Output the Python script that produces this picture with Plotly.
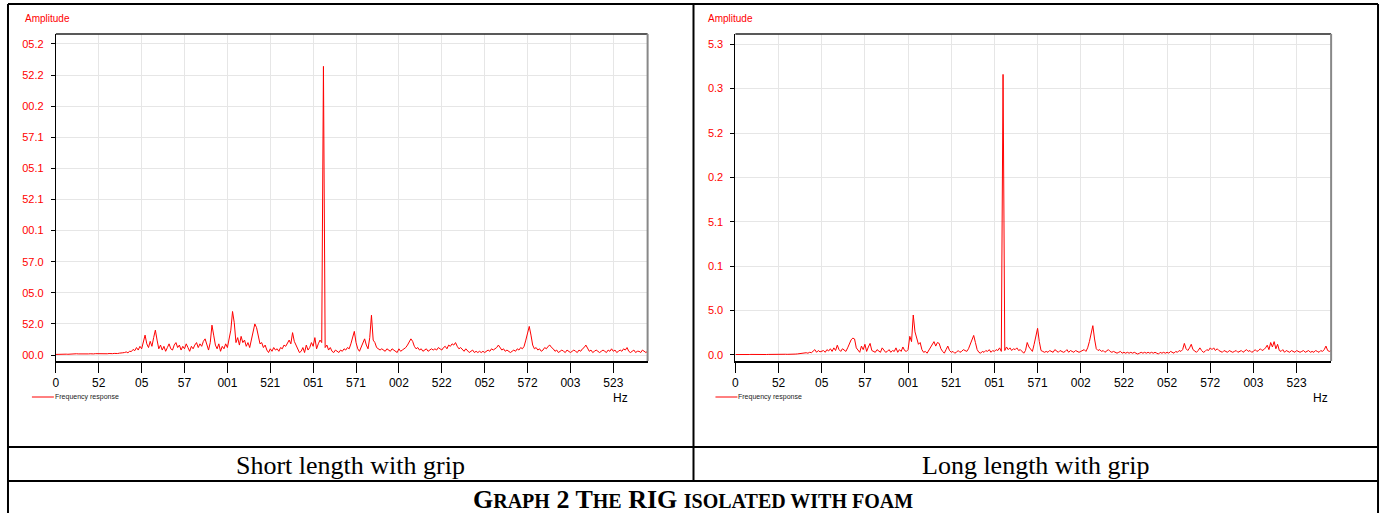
import plotly.graph_objects as go

# ---------------- data ----------------
freq_hz = list(range(0, 346))

short_grip = [
    0.005,0.006,0.005,0.007,0.006,0.008,0.007,0.006,0.008,0.007,
    0.009,0.008,0.01,0.009,0.008,0.01,0.009,0.011,0.01,0.009,
    0.01,0.008,0.009,0.011,0.01,0.009,0.008,0.01,0.009,0.008,
    0.01,0.012,0.009,0.011,0.013,0.01,0.012,0.015,0.014,0.018,
    0.02,0.025,0.018,0.03,0.028,0.045,0.035,0.06,0.04,0.07,
    0.05,0.12,0.16,0.09,0.06,0.11,0.07,0.14,0.2,0.12,
    0.05,0.08,0.04,0.07,0.03,0.06,0.09,0.05,0.04,0.08,
    0.1,0.06,0.08,0.04,0.07,0.05,0.09,0.06,0.03,0.07,
    0.05,0.08,0.1,0.06,0.09,0.07,0.11,0.13,0.08,0.04,
    0.1,0.24,0.16,0.08,0.05,0.09,0.03,0.07,0.05,0.09,
    0.06,0.12,0.2,0.35,0.26,0.1,0.14,0.08,0.15,0.1,
    0.12,0.07,0.1,0.06,0.13,0.2,0.25,0.22,0.15,0.09,
    0.1,0.06,0.08,0.04,0.02,0.05,0.03,0.06,0.04,0.05,
    0.03,0.06,0.05,0.08,0.07,0.1,0.12,0.09,0.18,0.11,
    0.08,0.05,0.02,0.03,0.06,0.02,0.08,0.04,0.06,0.1,
    0.07,0.14,0.05,0.09,0.12,0.1,2.32,0.06,0.08,0.04,
    0.06,0.03,0.02,0.04,0.03,0.02,0.04,0.03,0.05,0.04,
    0.06,0.05,0.09,0.15,0.19,0.1,0.05,0.03,0.06,0.1,
    0.13,0.08,0.05,0.14,0.32,0.12,0.1,0.06,0.05,0.04,
    0.05,0.04,0.03,0.05,0.04,0.03,0.05,0.04,0.03,0.02,
    0.05,0.03,0.04,0.05,0.06,0.08,0.1,0.13,0.11,0.07,
    0.05,0.06,0.04,0.05,0.03,0.04,0.05,0.03,0.04,0.05,
    0.04,0.05,0.04,0.06,0.05,0.04,0.06,0.07,0.05,0.08,
    0.07,0.09,0.08,0.1,0.07,0.05,0.06,0.04,0.03,0.05,
    0.03,0.02,0.03,0.04,0.02,0.03,0.02,0.03,0.02,0.03,
    0.02,0.03,0.04,0.03,0.05,0.04,0.05,0.06,0.08,0.06,
    0.04,0.05,0.03,0.04,0.03,0.02,0.03,0.04,0.03,0.05,
    0.04,0.06,0.05,0.07,0.12,0.18,0.23,0.16,0.08,0.05,
    0.06,0.04,0.05,0.03,0.04,0.06,0.05,0.07,0.08,0.06,
    0.05,0.03,0.04,0.02,0.03,0.04,0.03,0.02,0.04,0.03,
    0.02,0.03,0.04,0.03,0.02,0.04,0.03,0.05,0.06,0.08,
    0.05,0.03,0.04,0.02,0.03,0.04,0.03,0.02,0.03,0.04,
    0.03,0.02,0.04,0.03,0.05,0.03,0.04,0.02,0.03,0.04,
    0.03,0.05,0.04,0.06,0.03,0.02,0.03,0.04,0.02,0.03,
    0.03,0.02,0.04,0.03,0.02,0.03,
]

long_grip = [
    0.005,0.004,0.006,0.005,0.004,0.006,0.005,0.004,0.005,0.006,
    0.005,0.006,0.005,0.007,0.006,0.005,0.007,0.006,0.005,0.006,
    0.007,0.006,0.005,0.007,0.006,0.008,0.007,0.006,0.007,0.008,
    0.007,0.006,0.008,0.007,0.009,0.01,0.012,0.015,0.013,0.02,
    0.018,0.025,0.02,0.03,0.025,0.04,0.06,0.03,0.05,0.035,
    0.04,0.05,0.03,0.06,0.045,0.07,0.04,0.08,0.05,0.11,
    0.06,0.04,0.07,0.05,0.04,0.08,0.12,0.17,0.19,0.18,
    0.08,0.05,0.03,0.1,0.06,0.12,0.04,0.09,0.13,0.05,
    0.04,0.03,0.06,0.04,0.03,0.08,0.05,0.03,0.04,0.06,
    0.03,0.05,0.04,0.08,0.03,0.06,0.04,0.09,0.05,0.04,
    0.06,0.21,0.15,0.45,0.26,0.19,0.12,0.14,0.06,0.03,
    0.04,0.02,0.05,0.08,0.12,0.15,0.1,0.14,0.13,0.07,
    0.04,0.02,0.06,0.1,0.05,0.03,0.04,0.02,0.03,0.05,
    0.03,0.04,0.06,0.05,0.04,0.07,0.12,0.19,0.22,0.14,
    0.06,0.03,0.02,0.04,0.03,0.05,0.04,0.06,0.03,0.05,
    0.04,0.06,0.05,0.08,0.04,3.16,0.05,0.09,0.06,0.08,
    0.05,0.07,0.06,0.08,0.05,0.06,0.04,0.02,0.05,0.14,
    0.09,0.06,0.04,0.12,0.22,0.3,0.15,0.05,0.04,0.03,
    0.04,0.03,0.05,0.04,0.03,0.06,0.04,0.03,0.05,0.04,
    0.03,0.04,0.06,0.03,0.05,0.04,0.03,0.05,0.04,0.03,
    0.04,0.05,0.06,0.04,0.08,0.15,0.26,0.33,0.18,0.07,
    0.05,0.06,0.04,0.05,0.03,0.05,0.06,0.04,0.03,0.04,
    0.03,0.02,0.03,0.04,0.02,0.03,0.02,0.03,0.02,0.03,
    0.02,0.03,0.02,0.01,0.02,0.03,0.02,0.03,0.02,0.03,
    0.02,0.03,0.02,0.03,0.02,0.01,0.03,0.02,0.03,0.02,
    0.03,0.02,0.04,0.03,0.02,0.04,0.03,0.05,0.04,0.06,
    0.13,0.07,0.05,0.08,0.12,0.06,0.04,0.03,0.05,0.08,
    0.05,0.03,0.04,0.06,0.05,0.08,0.06,0.08,0.05,0.07,
    0.05,0.04,0.03,0.05,0.04,0.03,0.05,0.04,0.03,0.04,
    0.05,0.03,0.04,0.05,0.03,0.05,0.06,0.04,0.05,0.03,
    0.04,0.06,0.04,0.05,0.07,0.05,0.06,0.08,0.11,0.06,
    0.14,0.09,0.15,0.07,0.12,0.05,0.04,0.06,0.03,0.05,
    0.04,0.03,0.05,0.04,0.03,0.05,0.04,0.03,0.04,0.05,
    0.03,0.04,0.05,0.03,0.04,0.03,0.05,0.04,0.03,0.05,
    0.04,0.06,0.1,0.05,0.04,0.05,
]

x_tick_vals = [0, 25, 50, 75, 100, 125, 150, 175, 200, 225, 250, 275, 300, 325]
x_tick_text = ["0", "52", "05", "57", "001", "521", "051", "571", "002", "522", "052", "572", "003", "523"]

y1_tick_vals = [0, 0.25, 0.5, 0.75, 1.0, 1.25, 1.5, 1.75, 2.0, 2.25, 2.5]
y1_tick_text = ["00.0", "52.0", "05.0", "57.0", "00.1", "52.1", "05.1", "57.1", "00.2", "52.2", "05.2"]

y2_tick_vals = [0, 0.5, 1.0, 1.5, 2.0, 2.5, 3.0, 3.5]
y2_tick_text = ["0.0", "5.0", "0.1", "5.1", "0.2", "5.2", "0.3", "5.3"]

captions = ["Short length with grip", "Long length with grip"]
series_name = "Frequency response"

# ---------------- layout helpers ----------------
W, H = 1386, 513
def px(x):
    return x / W
def py(y):
    return 1 - y / H

RED = "#ff0000"

fig = go.Figure()
fig.add_trace(go.Scatter(x=freq_hz, y=short_grip, mode="lines", name=series_name,
                         line=dict(color=RED, width=1), xaxis="x", yaxis="y", showlegend=False))
fig.add_trace(go.Scatter(x=freq_hz, y=long_grip, mode="lines", name=series_name,
                         line=dict(color=RED, width=1), xaxis="x2", yaxis="y2", showlegend=False))

ydom = [py(361), py(34)]
common_x = dict(range=[0, 345], showgrid=True, gridcolor="#e6e6e6", gridwidth=1,
                showline=True, linecolor="#000000", linewidth=2, ticks="outside", ticklen=10,
                tickcolor="#000000", tickwidth=1, tickvals=x_tick_vals, ticktext=x_tick_text,
                tickfont=dict(family="Liberation Sans, Arial", size=12, color="#000000"),
                zeroline=False, fixedrange=True)
common_y = dict(showgrid=True, gridcolor="#e6e6e6", gridwidth=1, showline=True,
                linecolor="#000000", linewidth=1, ticks="outside", ticklen=4, tickcolor="#000000",
                tickfont=dict(family="Liberation Sans, Arial", size=11, color=RED),
                zeroline=False, ticklabelstandoff=5, domain=ydom, fixedrange=True)

fig.update_layout(
    width=W, height=H, margin=dict(l=0, r=0, t=0, b=0),
    paper_bgcolor="white", plot_bgcolor="white",
    xaxis=dict(domain=[px(53), px(646)], anchor="y", **common_x),
    yaxis=dict(anchor="x", range=[-0.048, 2.58], tickvals=y1_tick_vals, ticktext=y1_tick_text, **common_y),
    xaxis2=dict(domain=[px(734), px(1331)], anchor="y2", **common_x),
    yaxis2=dict(anchor="x2", range=[-0.068, 3.615], tickvals=y2_tick_vals, ticktext=y2_tick_text, **common_y),
)

shapes = []
annotations = []

# plot frame top/right
for (l, r) in [(53, 646), (734, 1331)]:
    shapes.append(dict(type="line", xref="paper", yref="paper", x0=px(l), x1=px(r), y0=py(34), y1=py(34),
                       line=dict(color="#222222", width=1.5)))
    shapes.append(dict(type="line", xref="paper", yref="paper", x0=px(r), x1=px(r), y0=py(34), y1=py(361),
                       line=dict(color="#888888", width=2)))

# table borders
blk = dict(color="#000000", width=2)
shapes += [
    dict(type="line", xref="paper", yref="paper", x0=px(5), x1=px(1378), y0=py(4), y1=py(4), line=blk),
    dict(type="line", xref="paper", yref="paper", x0=px(5), x1=px(5), y0=py(4), y1=py(513), line=blk),
    dict(type="line", xref="paper", yref="paper", x0=px(1378), x1=px(1378), y0=py(4), y1=py(513), line=blk),
    dict(type="line", xref="paper", yref="paper", x0=px(692), x1=px(692), y0=py(4), y1=py(481), line=blk),
    dict(type="line", xref="paper", yref="paper", x0=px(5), x1=px(1378), y0=py(447), y1=py(447), line=blk),
    dict(type="line", xref="paper", yref="paper", x0=px(5), x1=px(1378), y0=py(481), y1=py(481), line=blk),
]

for off, hz_x in [(0, 619), (685, 1320)]:
    # y axis title
    annotations.append(dict(text="Amplitude", x=px(20 + off), y=py(18), xref="paper", yref="paper",
                            xanchor="left", yanchor="middle", showarrow=False,
                            font=dict(family="Liberation Sans, Arial", size=10, color=RED)))
    # Hz label
    annotations.append(dict(text="Hz", x=px(hz_x), y=py(398), xref="paper", yref="paper",
                            xanchor="center", yanchor="middle", showarrow=False,
                            font=dict(family="Liberation Sans, Arial", size=12, color="#000000")))
    # legend
    shapes.append(dict(type="line", xref="paper", yref="paper", x0=px(29 + off), x1=px(51 + off),
                       y0=py(397), y1=py(397), line=dict(color=RED, width=1)))
    annotations.append(dict(text=series_name, x=px(50 + off), y=py(397), xref="paper", yref="paper",
                            xanchor="left", yanchor="middle", showarrow=False,
                            font=dict(family="Liberation Sans Narrow, Liberation Sans, Arial", size=7,
                                      color="#222222")))

# captions
for cx, txt in zip([348.5, 1035], captions):
    annotations.append(dict(text=txt, x=px(cx), y=py(465), xref="paper", yref="paper",
                            xanchor="center", yanchor="middle", showarrow=False,
                            font=dict(family="Liberation Serif, Times New Roman", size=26, color="#000000")))

big, small = 26, 20
def sc(word_big, word_small):
    return (f"<span style='font-size:{big}px'>{word_big}</span>"
            f"<span style='font-size:{small}px'>{word_small}</span>")
title_txt = (sc("G", "RAPH") + " " + sc("2", "") + " " + sc("T", "HE") + " " + sc("RIG", "") + " "
             + sc("", "ISOLATED WITH FOAM"))
annotations.append(dict(text="<b>" + title_txt + "</b>", x=px(691.5), y=py(499), xref="paper", yref="paper",
                        xanchor="center", yanchor="middle", showarrow=False,
                        font=dict(family="Liberation Serif, Times New Roman", size=big, color="#000000")))

fig.update_layout(shapes=shapes, annotations=annotations)
fig.write_html("out.html", config={"displayModeBar": False},
               post_script="document.body.style.margin='0';document.body.style.overflow='hidden';")
